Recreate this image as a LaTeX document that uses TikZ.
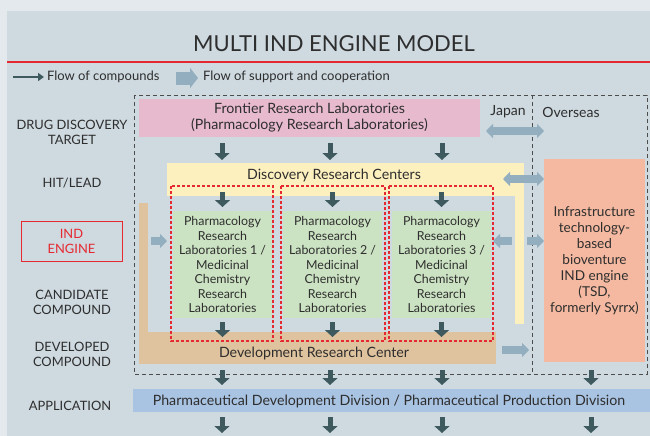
\documentclass[tikz,border=0pt]{standalone}
\usepackage{fontspec}
\setmainfont{Lato}
\usetikzlibrary{arrows.meta,calc}
\definecolor{bgout}{HTML}{E4E9ED}
\definecolor{panel}{HTML}{CED9E0}
\definecolor{pinkbox}{HTML}{E8BACE}
\definecolor{yellowbox}{HTML}{FDF0BF}
\definecolor{tanbox}{HTML}{DFC39E}
\definecolor{greenbox}{HTML}{CCE3C3}
\definecolor{salmonbox}{HTML}{F4B9A0}
\definecolor{bluebox}{HTML}{A9C3E2}
\definecolor{darkarrow}{HTML}{3E5A5F}
\definecolor{lightarrow}{HTML}{93AEBF}
\definecolor{redline}{HTML}{E62830}
\definecolor{ink}{HTML}{2E2E2E}
\begin{document}
\begin{tikzpicture}[x=1pt,y=-1pt,
  every node/.style={text=ink, inner sep=0pt, outer sep=0pt},
  labeltext/.style={font=\fontsize{12.9}{15}\selectfont, align=center},
  boxtext/.style={font=\fontsize{14.2}{16}\selectfont, align=center},
  labtext/.style={font=\fontsize{12.4}{14.5}\selectfont, align=center},
  legendtext/.style={font=\fontsize{13}{15}\selectfont, anchor=west},
  darr/.style={draw=darkarrow, line width=5pt, -{Triangle[width=15pt,length=7pt]}},
  larr/.style={draw=lightarrow, line width=8pt, -{Triangle[width=14pt,length=7pt]}},
  lbiarr/.style={draw=lightarrow, line width=8pt, {Triangle[width=14pt,length=7pt]}-{Triangle[width=14pt,length=7pt]}},
  frame/.style={draw=ink!85, line width=0.8pt, dash pattern=on 4pt off 3pt},
  reddash/.style={draw=redline, line width=1.3pt, dash pattern=on 3pt off 2pt},
]
\useasboundingbox (0,0) rectangle (650,436);
% background and panel
\fill[bgout] (0,0) rectangle (650,436);
\fill[panel] (7,11) rectangle (650,436);
\draw[redline, line width=1.5pt] (7,62) -- (650,62);

% title
\node[font=\fontsize{22}{26}\selectfont] (title) at (334,44) {MULTI IND ENGINE MODEL};

% legend
\node[legendtext] (lgA) at (47,77) {Flow of compounds};
\node[legendtext] (lgB) at (203,77) {Flow of support and cooperation};
\coordinate (lgAstart) at (13,77);
\coordinate (lgBstart) at (176,78);
\draw[draw=darkarrow, line width=2.6pt, -{Triangle[width=8pt,length=6pt]}] (lgAstart) -- ($(lgA.west)+(-3,0)$);
\draw[draw=lightarrow, line width=13pt, -{Triangle[width=20pt,length=8pt]}] (lgBstart) -- ($(lgB.west |- lgBstart)+(-5,0)$);

% column and row references
\coordinate (c1) at (222,0);
\coordinate (c2) at (330,0);
\coordinate (c3) at (442,0);
\coordinate (c4) at (591,0);
\coordinate (rowA) at (0,131);
\coordinate (rowB) at (0,179);
\coordinate (rowS) at (0,241);
\coordinate (rowD) at (0,350);

% dashed frame with Japan / Overseas divider
\draw[frame] (134,95) rectangle (647,374);
\draw[frame] (532,95) -- (532,374);

% Frontier Research Laboratories
\node[fill=pinkbox, minimum width=341pt, minimum height=38pt, boxtext] (frl) at (309.5,118)
  {Frontier Research Laboratories\\(Pharmacology Research Laboratories)};

% Discovery Research Centers (L shape)
\node[fill=yellowbox, minimum width=357pt, minimum height=33pt] (drc) at (345.5,179.5) {};
\node[fill=yellowbox, minimum width=9pt, minimum height=161pt] (drcV) at (519.5,243.5) {};
\node[boxtext] (drctext) at (334,175) {Discovery Research Centers};

% Development Research Center (L shape)
\node[fill=tanbox, minimum width=9pt, minimum height=160pt] (devV) at (143.5,283) {};
\node[fill=tanbox, minimum width=357pt, minimum height=32pt] (dev) at (317.5,348) {};
\node[boxtext] (devtext) at (314,353) {Development Research Center};

% Pharmacology / Medicinal Chemistry laboratories
\node[fill=greenbox, minimum width=99pt, minimum height=107pt, labtext] (g1) at (222.5,264.5)
  {Pharmacology\\Research\\Laboratories 1 /\\Medicinal\\Chemistry\\Research\\Laboratories};
\node[fill=greenbox, minimum width=99pt, minimum height=107pt, labtext] (g2) at (332.5,264.5)
  {Pharmacology\\Research\\Laboratories 2 /\\Medicinal\\Chemistry\\Research\\Laboratories};
\node[fill=greenbox, minimum width=99pt, minimum height=107pt, labtext] (g3) at (441.5,264.5)
  {Pharmacology\\Research\\Laboratories 3 /\\Medicinal\\Chemistry\\Research\\Laboratories};
\draw[reddash] (171,186) rectangle (273,341);
\draw[reddash] (281,186) rectangle (385,341);
\draw[reddash] (389,186) rectangle (493,341);

% overseas bioventure
\node[fill=salmonbox, minimum width=101pt, minimum height=203pt, font=\fontsize{13.6}{16}\selectfont, align=center] (sal) at (594.5,260.5)
  {Infrastructure\\technology-\\based\\bioventure\\IND engine\\(TSD,\\formerly Syrrx)};

% application band
\node[fill=bluebox, minimum width=517pt, minimum height=23pt] (app) at (391.5,400.5) {};
\node[boxtext] (apptext) at (389,401) {Pharmaceutical Development Division / Pharmaceutical Production Division};

% region labels
\node[labeltext] (lDrug) at (72,132) {DRUG DISCOVERY\\TARGET};
\node[labeltext] (lHit) at (72,183) {HIT/LEAD};
\node[draw=redline, line width=1pt, minimum width=101pt, minimum height=40pt, labeltext, text=redline] (lInd) at (71.5,241) {IND\\ENGINE};
\node[labeltext] (lCand) at (72,302) {CANDIDATE\\COMPOUND};
\node[labeltext] (lDev) at (72,354) {DEVELOPED\\COMPOUND};
\node[labeltext] (lApp) at (70,406) {APPLICATION};

% Japan / Overseas
\node[font=\fontsize{14}{16}\selectfont] (jp) at (508,112) {Japan};
\node[font=\fontsize{14}{16}\selectfont] (os) at (571,112) {Overseas};

% flow of compounds
\foreach \c in {c1,c2,c3}
  \draw[darr, shorten <=6pt, shorten >=3pt] (frl.south -| \c) -- (drc.north -| \c);
\foreach \g in {g1,g2,g3}
  \draw[darr, shorten >=4pt] ($(\g.north)+(0,-19)$) -- (\g.north);
\foreach \g in {g1,g2,g3}
  \draw[darr, shorten <=4pt] (\g.south) -- ($(\g.south)+(0,19)$);
\foreach \c in {c1,c2,c3}
  \draw[darr, shorten <=6pt, shorten >=4pt] (dev.south -| \c) -- (app.north -| \c);
\draw[darr, shorten <=8pt, shorten >=4pt] (sal.south -| c4) -- (app.north -| c4);
\foreach \c in {c1,c2,c3,c4}
  \draw[darr, shorten <=5pt] (app.south -| \c) -- ($(app.south -| \c)+(0,21)$);

% flow of support and cooperation
\coordinate (jpB) at (503,179);
\draw[lbiarr, shorten <=6pt] (frl.east |- rowA) -- (sal.west |- rowA);
\draw[lbiarr] (jpB) -- (sal.west |- rowB);
\draw[larr, shorten <=3pt, shorten >=6pt] (devV.east |- rowS) -- (g1.west |- rowS);
\draw[larr, shorten <=3pt, shorten >=2pt] (drcV.west |- rowS) -- (g3.east |- rowS);
\draw[larr, shorten <=3pt] (drcV.east |- rowS) -- (sal.west |- rowS);
\draw[larr, shorten <=6pt, shorten >=15pt] (dev.east |- rowD) -- (sal.west |- rowD);
\end{tikzpicture}
\end{document}
